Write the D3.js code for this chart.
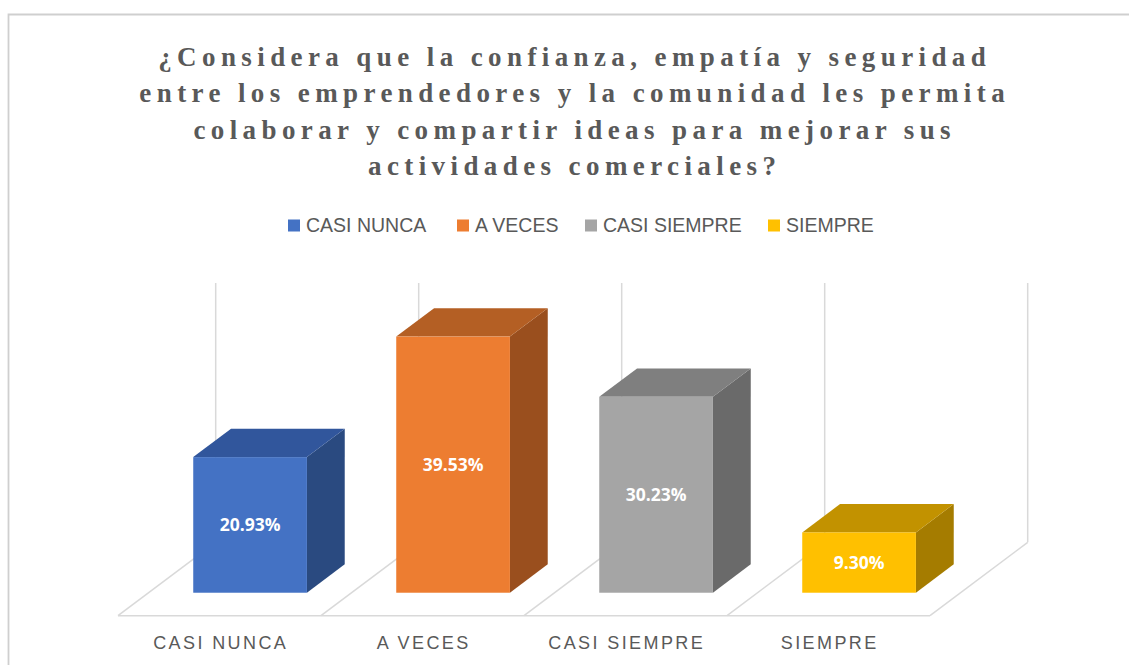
<!DOCTYPE html>
<html>
<head>
<meta charset="utf-8">
<script src="https://cdn.jsdelivr.net/npm/d3@7"></script>
<style>
  body { margin: 0; background: #fff; }
  svg { display: block; }
</style>
</head>
<body>
<div id="chart"></div>
<script>
// data
var categories = ["CASI NUNCA", "A VECES", "CASI SIEMPRE", "SIEMPRE"];
var values = [20.93, 39.53, 30.23, 9.30];
var labels = ["20.93%", "39.53%", "30.23%", "9.30%"];
var frontColors = ["#4472C4", "#ED7D31", "#A5A5A5", "#FFC000"];
var topColors = ["#31569C", "#B45F24", "#7F7F7F", "#C29200"];
var sideColors = ["#2A4A80", "#9A4F1E", "#6A6A6A", "#A57C00"];
var titleLines = [
  "¿Considera que la confianza, empatía y seguridad",
  "entre los emprendedores y la comunidad les permita",
  "colaborar y compartir ideas para mejorar sus",
  "actividades comerciales?"
];

var width = 1129, height = 665;
var floorY = 615.7;           // front edge of the floor
var depthX = 97.7, depthY = -73.4;  // offset of a full unit of depth
var barFront = 0.313, barBack = 0.70;

var svg = d3.select("#chart").append("svg")
  .attr("width", width)
  .attr("height", height);

// chart border
svg.append("path")
  .attr("d", "M8.5,665 L8.5,14.5 L1129,14.5")
  .attr("fill", "none")
  .attr("stroke", "#CFCFCF")
  .attr("stroke-width", 1.8);

// title
var titleSpacing = 5.4;
svg.append("g").selectAll("text")
  .data(titleLines)
  .enter().append("text")
    .attr("x", 572 + titleSpacing / 2)
    .attr("y", function(d, i) { return 66 + i * 36.3; })
    .attr("text-anchor", "middle")
    .attr("font-family", "'Liberation Serif', 'Times New Roman', serif")
    .attr("font-weight", "bold")
    .attr("font-size", 27)
    .attr("letter-spacing", titleSpacing)
    .attr("fill", "#595959")
    .text(function(d) { return d; });

// legend
var legendX = [288, 457, 585, 768];
var legend = svg.append("g").selectAll("g")
  .data(categories)
  .enter().append("g")
    .attr("transform", function(d, i) { return `translate(${legendX[i]},0)`; });

legend.append("rect")
  .attr("x", 0).attr("y", 219.5)
  .attr("width", 12).attr("height", 12)
  .attr("fill", function(d, i) { return frontColors[i]; });

legend.append("text")
  .attr("x", 18).attr("y", 231.5)
  .attr("font-family", "'Liberation Sans', Arial, sans-serif")
  .attr("font-size", 19.5)
  .attr("fill", "#595959")
  .text(function(d) { return d; });

// scales
var x = d3.scaleBand()
  .domain(categories)
  .range([118, 930])
  .paddingInner(0.44)
  .paddingOuter(0.22);

var y = d3.scaleLinear()
  .domain([0, 40])
  .range([floorY, floorY - 259.2]);

var step = x.step();
var bounds = d3.range(categories.length + 1).map(function(i) { return x.range()[0] + i * step; });

function px(xv, z) { return xv + z * depthX; }
function py(yv, z) { return yv + z * depthY; }

var grid = svg.append("g")
  .attr("stroke", "#D9D9D9")
  .attr("stroke-width", 1.5)
  .attr("fill", "none");

// back wall verticals
grid.selectAll(".wall")
  .data(bounds)
  .enter().append("line")
    .attr("class", "wall")
    .attr("x1", function(d) { return px(d, 1); })
    .attr("x2", function(d) { return px(d, 1); })
    .attr("y1", py(y(0), 1))
    .attr("y2", py(y(40), 1));

// floor diagonals
grid.selectAll(".floorLine")
  .data(bounds)
  .enter().append("line")
    .attr("class", "floorLine")
    .attr("x1", function(d) { return px(d, 0); })
    .attr("y1", y(0))
    .attr("x2", function(d) { return px(d, 1); })
    .attr("y2", py(y(0), 1));

// floor front edge
grid.append("line")
  .attr("x1", bounds[0]).attr("x2", bounds[bounds.length - 1])
  .attr("y1", y(0)).attr("y2", y(0));

// bars
var bars = svg.append("g").selectAll("g")
  .data(values)
  .enter().append("g");

function pts(arr) { return arr.map(function(p) { return p.join(","); }).join(" "); }

bars.append("polygon")   // right side
  .attr("points", function(d, i) {
    var xr = x(categories[i]) + x.bandwidth();
    return pts([
      [px(xr, barFront), py(y(0), barFront)],
      [px(xr, barBack), py(y(0), barBack)],
      [px(xr, barBack), py(y(d), barBack)],
      [px(xr, barFront), py(y(d), barFront)]
    ]);
  })
  .attr("fill", function(d, i) { return sideColors[i]; });

bars.append("polygon")   // top
  .attr("points", function(d, i) {
    var xl = x(categories[i]), xr = xl + x.bandwidth();
    return pts([
      [px(xl, barFront), py(y(d), barFront)],
      [px(xl, barBack), py(y(d), barBack)],
      [px(xr, barBack), py(y(d), barBack)],
      [px(xr, barFront), py(y(d), barFront)]
    ]);
  })
  .attr("fill", function(d, i) { return topColors[i]; });

bars.append("rect")      // front
  .attr("x", function(d, i) { return px(x(categories[i]), barFront); })
  .attr("y", function(d) { return py(y(d), barFront); })
  .attr("width", x.bandwidth())
  .attr("height", function(d) { return y(0) - y(d); })
  .attr("fill", function(d, i) { return frontColors[i]; });

bars.append("text")
  .attr("x", function(d, i) { return px(x(categories[i]) + x.bandwidth() / 2, barFront); })
  .attr("y", function(d) { return py((y(d) + y(0)) / 2, barFront); })
  .attr("dy", "0.35em")
  .attr("text-anchor", "middle")
  .attr("font-family", "'Open Sans', 'Liberation Sans', sans-serif")
  .attr("font-weight", "bold")
  .attr("font-size", 17.5)
  .attr("fill", "#ffffff")
  .text(function(d, i) { return labels[i]; });

// category axis labels
var catSpacing = 2.4;
svg.append("g").selectAll("text")
  .data(categories)
  .enter().append("text")
    .attr("x", function(d) { return x(d) + x.bandwidth() / 2 + catSpacing / 2; })
    .attr("y", 649)
    .attr("text-anchor", "middle")
    .attr("font-family", "'Liberation Sans', Arial, sans-serif")
    .attr("font-size", 18)
    .attr("letter-spacing", catSpacing)
    .attr("fill", "#595959")
    .text(function(d) { return d; });
</script>
</body>
</html>
